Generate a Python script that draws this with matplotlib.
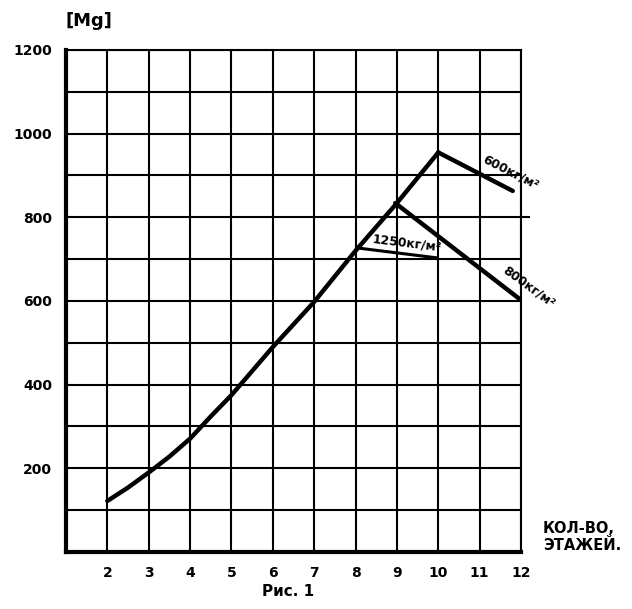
import matplotlib.pyplot as plt
import numpy as np

# main curve: mass vs number of floors
floors = [2, 2.5, 3, 3.5, 4, 4.5, 5, 6, 7, 8, 9, 10]
mass = [122, 154, 190, 228, 271, 324, 375, 490, 598, 720, 834, 955]

# branches for different loads
b600_x = [10, 11.8]
b600_y = [955, 863]
b800_x = [8.96, 12]
b800_y = [834, 602]
b1250_x = [8.02, 9.97]
b1250_y = [727, 703]

xticks = list(range(2, 13))
yticks = [200, 400, 600, 800, 1000, 1200]

fig = plt.figure(figsize=(6.32, 6.09), dpi=100)
ax = fig.add_axes([0.1044, 0.0936, 0.72, 0.8244])

for x in xticks:
    ax.axvline(x, color='black', lw=1.5, zorder=1)
for y in range(100, 1300, 100):
    ax.axhline(y, color='black', lw=1.5, zorder=1)
# the 800 line runs a bit past the frame
ax.plot([12, 12.2], [800, 800], color='black', lw=1.5, clip_on=False)

ax.plot(floors, mass, color='black', lw=3.2, solid_capstyle='round', zorder=3)
ax.plot(b600_x, b600_y, color='black', lw=3.2, solid_capstyle='round', zorder=3)
ax.plot(b800_x, b800_y, color='black', lw=3.2, solid_capstyle='round', zorder=3)
ax.plot(b1250_x, b1250_y, color='black', lw=2.2, solid_capstyle='round', zorder=3)

ax.set_xlim(1, 12)
ax.set_ylim(0, 1200)
ax.set_xticks(xticks)
ax.set_yticks(yticks)
ax.tick_params(length=0, labelsize=10, pad=10)
for lab in ax.get_xticklabels() + ax.get_yticklabels():
    lab.set_fontweight('bold')
for s in ['left', 'bottom']:
    ax.spines[s].set_linewidth(3)
for s in ['right', 'top']:
    ax.spines[s].set_linewidth(1.5)

ax.text(11.76, 908, '600кг/м²', rotation=-27, fontsize=9, fontweight='bold',
        ha='center', va='center')
ax.text(9.25, 739, '1250кг/м²', rotation=-7, fontsize=9, fontweight='bold',
        ha='center', va='center')
ax.text(12.2, 633, '800кг/м²', rotation=-36, fontsize=9, fontweight='bold',
        ha='center', va='center')

fig.text(0.14, 0.965, '[Mg]', fontsize=13, fontweight='bold', ha='center', va='center')
fig.text(0.456, 0.028, 'Рис. 1', fontsize=11, fontweight='bold', ha='center', va='center')
fig.text(0.859, 0.118, 'КОЛ-ВО,\nЭТАЖЕЙ.', fontsize=10.5, fontweight='bold',
         ha='left', va='center', linespacing=1.15)

fig.savefig('out.png', dpi=100)
